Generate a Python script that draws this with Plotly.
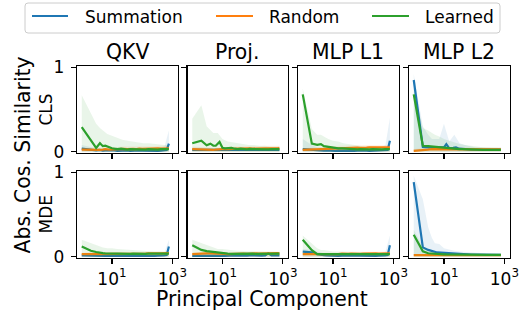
import plotly.graph_objects as go
from plotly.subplots import make_subplots

W, H = 520, 310

# ---------------- data ----------------
X = [1, 2, 3, 4, 5, 6, 8, 10, 12, 15, 20, 25, 32, 40, 50, 65, 80, 100, 130, 160, 200, 260, 330, 420, 530, 650, 768]
BX = [1, 2, 3, 4, 5, 7, 10, 15, 22, 33, 50, 75, 110, 165, 250, 370, 550, 768]

COL_TITLES = ["QKV", "Proj.", "MLP L1", "MLP L2"]
ROW_LABELS = ["CLS", "MDE"]
SERIES = ["Summation", "Random", "Learned"]
X_TICKVALS = [10, 1000]
X_TICKTEXT = ["10<sup>1</sup>", "10<sup>3</sup>"]
Y_TICKVALS = [0, 1]
Y_TICKTEXT = ["0", "1"]

# CLS / QKV
CLS_QKV_SUM = [0.035,0.02,0.015,0.02,0.012,0.015,0.018,0.012,0.015,0.01,0.014,0.012,0.015,0.01,0.013,0.011,0.014,0.012,0.01,0.013,0.011,0.012,0.01,0.012,0.015,0.02,0.095]
CLS_QKV_RND = [0.025,0.02,0.022,0.02,0.025,0.03,0.025,0.028,0.03,0.027,0.03,0.033,0.03,0.035,0.032,0.03,0.036,0.033,0.035,0.038,0.034,0.037,0.04,0.036,0.039,0.04,0.04]
CLS_QKV_LRN = [0.29,0.13,0.045,0.10,0.065,0.07,0.05,0.04,0.035,0.03,0.035,0.03,0.025,0.03,0.028,0.025,0.03,0.027,0.025,0.03,0.026,0.028,0.025,0.03,0.027,0.025,0.03]
CLS_QKV_SUM_UP = [0.08,0.05,0.04,0.04,0.04,0.04,0.04,0.04,0.04,0.04,0.04,0.04,0.04,0.04,0.04,0.05,0.06,0.25]
CLS_QKV_RND_UP = [0.05,0.045,0.045,0.05,0.05,0.055,0.055,0.055,0.06,0.06,0.06,0.06,0.065,0.065,0.065,0.07,0.07,0.07]
CLS_QKV_LRN_UP = [0.67,0.45,0.33,0.28,0.25,0.21,0.19,0.16,0.14,0.13,0.12,0.11,0.1,0.1,0.09,0.085,0.08,0.08]

# CLS / Proj.
CLS_PROJ_SUM = [0.02,0.02,0.015,0.02,0.015,0.018,0.015,0.02,0.015,0.012,0.018,0.014,0.02,0.015,0.012,0.016,0.014,0.012,0.015,0.013,0.015,0.012,0.014,0.012,0.015,0.014,0.02]
CLS_PROJ_RND = [0.03,0.025,0.02,0.02,0.02,0.025,0.03,0.03,0.032,0.03,0.035,0.033,0.036,0.035,0.038,0.035,0.04,0.037,0.04,0.038,0.042,0.04,0.038,0.042,0.04,0.04,0.042]
CLS_PROJ_LRN = [0.10,0.13,0.075,0.095,0.07,0.07,0.115,0.045,0.04,0.04,0.045,0.035,0.03,0.035,0.03,0.028,0.032,0.03,0.028,0.03,0.027,0.03,0.028,0.03,0.027,0.03,0.03]
CLS_PROJ_SUM_UP = [0.05,0.045,0.04,0.04,0.04,0.04,0.04,0.04,0.04,0.04,0.04,0.04,0.04,0.04,0.04,0.045,0.05,0.06]
CLS_PROJ_RND_UP = [0.06,0.05,0.045,0.045,0.045,0.05,0.055,0.055,0.06,0.06,0.06,0.065,0.065,0.065,0.07,0.07,0.07,0.07]
CLS_PROJ_LRN_UP = [0.39,0.55,0.3,0.26,0.22,0.22,0.15,0.12,0.11,0.1,0.09,0.08,0.08,0.07,0.07,0.06,0.06,0.06]

# CLS / MLP L1
CLS_MLP1_SUM = [0.03,0.02,0.015,0.015,0.012,0.015,0.01,0.012,0.01,0.012,0.01,0.013,0.01,0.012,0.01,0.011,0.013,0.01,0.012,0.01,0.012,0.011,0.013,0.012,0.015,0.02,0.13]
CLS_MLP1_RND = [0.02,0.025,0.03,0.03,0.035,0.035,0.035,0.04,0.038,0.04,0.042,0.04,0.045,0.043,0.045,0.048,0.045,0.05,0.047,0.05,0.052,0.048,0.05,0.052,0.05,0.052,0.05]
CLS_MLP1_LRN = [0.68,0.095,0.08,0.09,0.065,0.06,0.055,0.05,0.045,0.04,0.038,0.035,0.03,0.033,0.03,0.028,0.03,0.027,0.03,0.028,0.03,0.027,0.03,0.028,0.03,0.028,0.03]
CLS_MLP1_SUM_UP = [0.15,0.08,0.05,0.05,0.04,0.04,0.04,0.04,0.04,0.04,0.04,0.04,0.04,0.04,0.04,0.05,0.08,0.4]
CLS_MLP1_RND_UP = [0.04,0.05,0.055,0.06,0.06,0.065,0.065,0.07,0.07,0.07,0.075,0.075,0.08,0.08,0.08,0.08,0.08,0.08]
CLS_MLP1_LRN_UP = [0.75,0.27,0.2,0.2,0.18,0.15,0.13,0.12,0.1,0.09,0.08,0.07,0.06,0.06,0.06,0.055,0.05,0.05]

# CLS / MLP L2
CLS_MLP2_SUM = [0.85,0.055,0.05,0.05,0.045,0.05,0.045,0.05,0.09,0.04,0.045,0.05,0.035,0.03,0.03,0.028,0.025,0.025,0.022,0.025,0.02,0.022,0.02,0.022,0.02,0.022,0.025]
CLS_MLP2_RND = [0.01,0.015,0.025,0.03,0.03,0.028,0.025,0.025,0.022,0.025,0.022,0.025,0.023,0.025,0.022,0.025,0.024,0.026,0.025,0.027,0.025,0.028,0.026,0.03,0.028,0.03,0.028]
CLS_MLP2_LRN = [0.68,0.07,0.065,0.06,0.06,0.055,0.05,0.05,0.045,0.04,0.04,0.035,0.03,0.03,0.028,0.025,0.025,0.022,0.025,0.022,0.02,0.022,0.02,0.022,0.02,0.022,0.02]
CLS_MLP2_SUM_UP = [0.92,0.3,0.2,0.15,0.15,0.15,0.33,0.12,0.2,0.1,0.08,0.06,0.05,0.05,0.045,0.045,0.045,0.05]
CLS_MLP2_RND_UP = [0.03,0.035,0.045,0.05,0.05,0.05,0.045,0.045,0.045,0.045,0.045,0.045,0.045,0.05,0.05,0.05,0.05,0.05]
CLS_MLP2_LRN_UP = [0.75,0.28,0.25,0.22,0.2,0.18,0.15,0.13,0.11,0.09,0.08,0.07,0.06,0.055,0.05,0.05,0.045,0.04]

# MDE / QKV
MDE_QKV_SUM = [0.015,0.01,0.012,0.01,0.012,0.01,0.012,0.01,0.012,0.01,0.008,0.012,0.01,0.012,0.01,0.008,0.012,0.01,0.012,0.01,0.012,0.01,0.012,0.01,0.015,0.02,0.12]
MDE_QKV_RND = [0.03,0.03,0.03,0.03,0.032,0.03,0.032,0.03,0.033,0.03,0.032,0.035,0.033,0.036,0.034,0.037,0.035,0.038,0.036,0.04,0.037,0.04,0.038,0.04,0.042,0.04,0.042]
MDE_QKV_LRN = [0.12,0.07,0.055,0.045,0.042,0.04,0.038,0.04,0.037,0.035,0.038,0.035,0.036,0.034,0.035,0.033,0.035,0.034,0.033,0.035,0.034,0.033,0.035,0.034,0.033,0.034,0.035]
MDE_QKV_SUM_UP = [0.03,0.03,0.03,0.03,0.03,0.03,0.03,0.03,0.03,0.03,0.03,0.03,0.03,0.03,0.03,0.035,0.05,0.2]
MDE_QKV_RND_UP = [0.045,0.045,0.045,0.045,0.05,0.05,0.05,0.05,0.05,0.05,0.055,0.055,0.055,0.06,0.06,0.06,0.06,0.06]
MDE_QKV_LRN_UP = [0.2,0.16,0.13,0.12,0.11,0.1,0.1,0.09,0.085,0.08,0.075,0.07,0.065,0.06,0.06,0.06,0.055,0.055]

# MDE / Proj.
MDE_PROJ_SUM = [0.01,0.012,0.015,0.012,0.01,0.012,0.015,0.012,0.01,0.013,0.011,0.015,0.012,0.01,0.014,0.012,0.015,0.013,0.011,0.014,0.012,0.015,0.04,0.015,0.012,0.014,0.015]
MDE_PROJ_RND = [0.03,0.04,0.04,0.038,0.035,0.035,0.033,0.03,0.032,0.03,0.033,0.032,0.035,0.033,0.036,0.034,0.037,0.035,0.038,0.036,0.038,0.04,0.038,0.04,0.04,0.042,0.04]
MDE_PROJ_LRN = [0.135,0.08,0.065,0.06,0.05,0.045,0.04,0.038,0.036,0.035,0.034,0.035,0.033,0.034,0.035,0.033,0.034,0.035,0.033,0.034,0.035,0.033,0.034,0.035,0.034,0.035,0.035]
MDE_PROJ_SUM_UP = [0.03,0.03,0.03,0.03,0.03,0.03,0.03,0.03,0.03,0.03,0.03,0.03,0.035,0.035,0.04,0.04,0.035,0.035]
MDE_PROJ_RND_UP = [0.05,0.06,0.06,0.055,0.05,0.05,0.05,0.05,0.05,0.055,0.055,0.055,0.06,0.06,0.06,0.06,0.06,0.06]
MDE_PROJ_LRN_UP = [0.2,0.16,0.13,0.12,0.1,0.09,0.09,0.08,0.075,0.07,0.07,0.065,0.06,0.06,0.06,0.055,0.055,0.055]

# MDE / MLP L1
MDE_MLP1_SUM = [0.06,0.05,0.03,0.02,0.018,0.015,0.012,0.015,0.012,0.01,0.013,0.011,0.012,0.01,0.013,0.011,0.012,0.01,0.013,0.011,0.012,0.01,0.013,0.012,0.015,0.02,0.135]
MDE_MLP1_RND = [0.03,0.03,0.028,0.025,0.03,0.028,0.032,0.03,0.033,0.03,0.035,0.032,0.034,0.036,0.033,0.036,0.034,0.037,0.035,0.038,0.036,0.038,0.037,0.04,0.038,0.04,0.04]
MDE_MLP1_LRN = [0.2,0.077,0.03,0.03,0.028,0.03,0.028,0.03,0.027,0.03,0.028,0.03,0.027,0.03,0.028,0.03,0.027,0.03,0.028,0.03,0.027,0.03,0.028,0.03,0.028,0.03,0.03]
MDE_MLP1_SUM_UP = [0.09,0.08,0.06,0.05,0.04,0.04,0.035,0.035,0.035,0.035,0.035,0.035,0.035,0.035,0.035,0.04,0.06,0.25]
MDE_MLP1_RND_UP = [0.045,0.045,0.045,0.045,0.045,0.05,0.05,0.05,0.05,0.055,0.055,0.055,0.055,0.06,0.06,0.06,0.06,0.06]
MDE_MLP1_LRN_UP = [0.25,0.15,0.1,0.08,0.08,0.07,0.06,0.06,0.06,0.06,0.055,0.055,0.055,0.05,0.05,0.05,0.05,0.05]

# MDE / MLP L2
MDE_MLP2_SUM = [0.885,0.11,0.08,0.065,0.056,0.05,0.048,0.045,0.042,0.04,0.035,0.032,0.03,0.028,0.026,0.025,0.024,0.023,0.022,0.022,0.021,0.021,0.02,0.02,0.02,0.02,0.02]
MDE_MLP2_RND = [0.018,0.018,0.018,0.018,0.017,0.018,0.017,0.018,0.017,0.018,0.017,0.018,0.017,0.018,0.017,0.018,0.017,0.018,0.017,0.018,0.017,0.018,0.017,0.018,0.017,0.018,0.017]
MDE_MLP2_LRN = [0.26,0.064,0.04,0.035,0.032,0.03,0.028,0.027,0.026,0.025,0.025,0.024,0.024,0.023,0.023,0.023,0.022,0.022,0.022,0.022,0.021,0.021,0.021,0.021,0.02,0.02,0.02]
MDE_MLP2_SUM_UP = [0.96,0.68,0.35,0.22,0.16,0.15,0.1,0.08,0.07,0.06,0.055,0.05,0.045,0.04,0.04,0.035,0.035,0.035]
MDE_MLP2_RND_UP = [0.03,0.03,0.03,0.03,0.03,0.03,0.03,0.03,0.03,0.03,0.03,0.03,0.03,0.03,0.03,0.03,0.03,0.03]
MDE_MLP2_LRN_UP = [0.32,0.12,0.08,0.06,0.05,0.05,0.045,0.04,0.04,0.035,0.035,0.035,0.035,0.03,0.03,0.03,0.03,0.03]

PANELS = [
    [(CLS_QKV_SUM, CLS_QKV_RND, CLS_QKV_LRN), (CLS_PROJ_SUM, CLS_PROJ_RND, CLS_PROJ_LRN),
     (CLS_MLP1_SUM, CLS_MLP1_RND, CLS_MLP1_LRN), (CLS_MLP2_SUM, CLS_MLP2_RND, CLS_MLP2_LRN)],
    [(MDE_QKV_SUM, MDE_QKV_RND, MDE_QKV_LRN), (MDE_PROJ_SUM, MDE_PROJ_RND, MDE_PROJ_LRN),
     (MDE_MLP1_SUM, MDE_MLP1_RND, MDE_MLP1_LRN), (MDE_MLP2_SUM, MDE_MLP2_RND, MDE_MLP2_LRN)],
]
BANDS = [
    [(CLS_QKV_SUM_UP, CLS_QKV_RND_UP, CLS_QKV_LRN_UP), (CLS_PROJ_SUM_UP, CLS_PROJ_RND_UP, CLS_PROJ_LRN_UP),
     (CLS_MLP1_SUM_UP, CLS_MLP1_RND_UP, CLS_MLP1_LRN_UP), (CLS_MLP2_SUM_UP, CLS_MLP2_RND_UP, CLS_MLP2_LRN_UP)],
    [(MDE_QKV_SUM_UP, MDE_QKV_RND_UP, MDE_QKV_LRN_UP), (MDE_PROJ_SUM_UP, MDE_PROJ_RND_UP, MDE_PROJ_LRN_UP),
     (MDE_MLP1_SUM_UP, MDE_MLP1_RND_UP, MDE_MLP1_LRN_UP), (MDE_MLP2_SUM_UP, MDE_MLP2_RND_UP, MDE_MLP2_LRN_UP)],
]

# ---------------- style ----------------
COLORS = ["#1f77b4", "#ff7f0e", "#2ca02c"]
BAND_COLORS = ["rgba(31,119,180,0.10)", "rgba(255,127,14,0.09)", "rgba(44,160,44,0.10)"]
FONT = "DejaVu Sans"
COL_PX = [(77, 177.5), (187.5, 288), (298, 398.5), (409, 509.5)]
ROW_PX = [(66, 153), (171, 258)]


def px_x(v):
    return v / W


def px_y(v):
    return 1 - v / H


fig = make_subplots(rows=2, cols=4)

for r in range(2):
    for c in range(4):
        for s in range(3):
            fig.add_trace(go.Scatter(x=BX, y=BANDS[r][c][s], mode="lines", line=dict(width=0),
                                     fill="tozeroy", fillcolor=BAND_COLORS[s], showlegend=False,
                                     hoverinfo="skip"), row=r + 1, col=c + 1)
            fig.add_trace(go.Scatter(x=X, y=PANELS[r][c][s], mode="lines", name=SERIES[s],
                                     line=dict(color=COLORS[s], width=2.2), showlegend=False),
                          row=r + 1, col=c + 1)

for r in range(2):
    for c in range(4):
        n = r * 4 + c + 1
        sx = "xaxis" if n == 1 else f"xaxis{n}"
        sy = "yaxis" if n == 1 else f"yaxis{n}"
        x0, x1 = COL_PX[c]
        y0, y1 = ROW_PX[r]
        fig.layout[sx].update(
            domain=[px_x(x0), px_x(x1)], type="log", range=[-0.157, 3.17],
            tickvals=X_TICKVALS, ticktext=X_TICKTEXT, showticklabels=(r == 1),
            ticks="outside", ticklen=5, tickwidth=1.2, tickcolor="black",
            showline=True, mirror=True, linecolor="black", linewidth=1.2,
            showgrid=False, zeroline=False, automargin=False,
            tickfont=dict(family=FONT, size=17, color="black"),
        )
        fig.layout[sy].update(
            domain=[px_y(y1), px_y(y0)], range=[-0.016, 1.016],
            tickvals=Y_TICKVALS, ticktext=Y_TICKTEXT, showticklabels=(c == 0),
            ticks="outside", ticklen=5, tickwidth=1.2, tickcolor="black",
            showline=True, mirror=True, linecolor="black", linewidth=1.2,
            showgrid=False, zeroline=False, ticklabelstandoff=3, automargin=False,
            tickfont=dict(family=FONT, size=17, color="black"),
        )

annotations = []
for c, t in enumerate(COL_TITLES):
    annotations.append(dict(text=t, x=px_x((COL_PX[c][0] + COL_PX[c][1]) / 2), y=px_y(51.5),
                            xref="paper", yref="paper", showarrow=False, xanchor="center",
                            yanchor="middle", font=dict(family=FONT, size=20.4, color="black")))
for r, t in enumerate(ROW_LABELS):
    annotations.append(dict(text=t, x=px_x(45), y=px_y((ROW_PX[r][0] + ROW_PX[r][1]) / 2),
                            xref="paper", yref="paper", showarrow=False, textangle=-90,
                            xanchor="center", yanchor="middle",
                            font=dict(family=FONT, size=17, color="black")))
annotations.append(dict(text="Abs. Cos. Similarity", x=px_x(22.5), y=px_y(155), xref="paper", yref="paper",
                        showarrow=False, textangle=-90, xanchor="center", yanchor="middle",
                        font=dict(family=FONT, size=20.4, color="black")))
annotations.append(dict(text="Principal Component", x=px_x(262), y=px_y(298.5), xref="paper", yref="paper",
                        showarrow=False, xanchor="center", yanchor="middle",
                        font=dict(family=FONT, size=20.4, color="black")))

# manual legend (matplotlib-style, top)
LEG_LINE_X = [(32, 68), (216, 253), (372, 409)]
LEG_TEXT_X = [83, 267, 423]
shapes = []
lx0, ly0, lx1, ly1, rr = 25, 3, 500, 33, 3
path = (f"M{px_x(lx0 + rr)},{px_y(ly0)} L{px_x(lx1 - rr)},{px_y(ly0)} "
        f"Q{px_x(lx1)},{px_y(ly0)} {px_x(lx1)},{px_y(ly0 + rr)} "
        f"L{px_x(lx1)},{px_y(ly1 - rr)} Q{px_x(lx1)},{px_y(ly1)} {px_x(lx1 - rr)},{px_y(ly1)} "
        f"L{px_x(lx0 + rr)},{px_y(ly1)} Q{px_x(lx0)},{px_y(ly1)} {px_x(lx0)},{px_y(ly1 - rr)} "
        f"L{px_x(lx0)},{px_y(ly0 + rr)} Q{px_x(lx0)},{px_y(ly0)} {px_x(lx0 + rr)},{px_y(ly0)} Z")
shapes.append(dict(type="path", path=path, xref="paper", yref="paper",
                   line=dict(color="#cccccc", width=1), fillcolor="rgba(255,255,255,0.8)"))
for i, s in enumerate(SERIES):
    a, b = LEG_LINE_X[i]
    shapes.append(dict(type="line", x0=px_x(a), x1=px_x(b), y0=px_y(16), y1=px_y(16),
                       xref="paper", yref="paper", line=dict(color=COLORS[i], width=2.2)))
    annotations.append(dict(text=s, x=px_x(LEG_TEXT_X[i]), y=px_y(17), xref="paper", yref="paper",
                            showarrow=False, xanchor="left", yanchor="middle",
                            font=dict(family=FONT, size=17, color="black")))

fig.update_layout(
    width=W, height=H, autosize=False,
    margin=dict(l=0, r=0, t=0, b=0, pad=0, autoexpand=False),
    paper_bgcolor="white", plot_bgcolor="white",
    showlegend=False, annotations=annotations, shapes=shapes,
    font=dict(family=FONT, color="black"),
)

fig.write_html("out.html", config={"displayModeBar": False, "staticPlot": True},
               post_script="document.body.style.margin='0';")
